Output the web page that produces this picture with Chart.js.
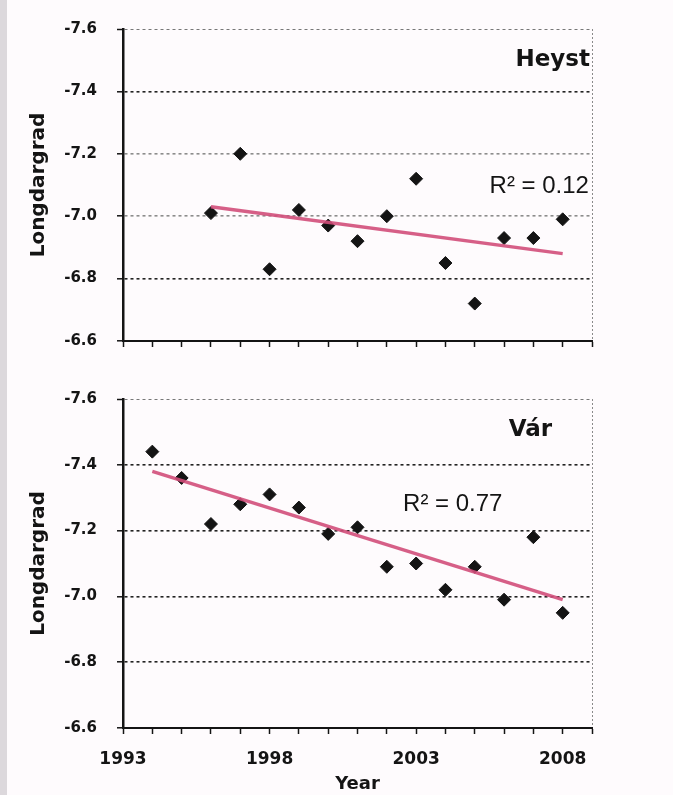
<!DOCTYPE html>
<html>
<head>
<meta charset="utf-8">
<script src="https://cdn.jsdelivr.net/npm/chart.js@4.4.1/dist/chart.umd.min.js"></script>
<style>
  html, body { margin: 0; padding: 0; background: #fefbfd; }
  #page { position: relative; width: 673px; height: 795px; overflow: hidden; background: #fefbfd; }
  #strip { position: absolute; left: 0; top: 0; width: 7px; height: 795px; background: #dcd8dc; }
  .panel { position: absolute; left: 0; width: 673px; }
  #topPanel { top: 0; height: 370px; }
  #bottomPanel { top: 370px; height: 425px; }
</style>
</head>
<body>
<div id="page">
  <div id="strip"></div>
  <div class="panel" id="topPanel"><canvas id="heystChart"></canvas></div>
  <div class="panel" id="bottomPanel"><canvas id="varChart"></canvas></div>
</div>
<script>
// Heyst
const heystYears = [1996, 1997, 1998, 1999, 2000, 2001, 2002, 2003, 2004, 2005, 2006, 2007, 2008];
const heystValues = [-7.01, -7.20, -6.83, -7.02, -6.97, -6.92, -7.00, -7.12, -6.85, -6.72, -6.93, -6.93, -6.99];
const heystTrendYears = [1996, 2008];
const heystTrendValues = [-7.03, -6.88];

// Vár
const varYears = [1994, 1995, 1996, 1997, 1998, 1999, 2000, 2001, 2002, 2003, 2004, 2005, 2006, 2007, 2008];
const varValues = [-7.44, -7.36, -7.22, -7.28, -7.31, -7.27, -7.19, -7.21, -7.09, -7.10, -7.02, -7.09, -6.99, -7.18, -6.95];
const varTrendYears = [1994, 2008];
const varTrendValues = [-7.38, -6.99];

// axes
const yTicks = [-7.6, -7.4, -7.2, -7.0, -6.8, -6.6];
const xLabelYears = [1993, 1998, 2003, 2008];

const ink = '#141414';

function toPoints(xs, ys) {
  return xs.map((x, i) => ({ x: x, y: ys[i] }));
}

// writes the panel name and R² in data space
function labelPlugin(items) {
  return {
    id: 'panelLabels',
    afterDatasetsDraw(chart) {
      const { ctx, scales } = chart;
      items.forEach(it => {
        ctx.save();
        ctx.font = it.font;
        ctx.fillStyle = ink;
        ctx.textAlign = 'center';
        ctx.textBaseline = 'middle';
        ctx.fillText(it.text, scales.x.getPixelForValue(it.x), scales.y.getPixelForValue(it.y));
        ctx.restore();
      });
    }
  };
}

function makeChart(canvasId, xs, ys, trendXs, trendYs, o) {
  return new Chart(document.getElementById(canvasId), {
    type: 'scatter',
    data: {
      datasets: [
        {
          type: 'line',
          data: toPoints(trendXs, trendYs),
          borderColor: 'rgba(210, 78, 122, 0.9)',
          borderWidth: 3.5,
          pointRadius: 0,
          fill: false
        },
        {
          data: toPoints(xs, ys),
          pointStyle: 'rectRot',
          pointRadius: 6.5,
          backgroundColor: ink,
          borderColor: ink,
          borderWidth: 1
        }
      ]
    },
    options: {
      responsive: true,
      maintainAspectRatio: false,
      animation: false,
      layout: { padding: { top: o.padTop, right: 81, left: 0, bottom: 0 } },
      plugins: { legend: { display: false }, tooltip: { enabled: false } },
      scales: {
        x: {
          type: 'linear',
          min: 1993,
          max: 2009,
          afterFit: s => { s.height = o.xHeight; },
          ticks: {
            stepSize: 1,
            autoSkip: false,
            maxRotation: 0,
            padding: 15,
            color: ink,
            font: { family: 'DejaVu Sans', weight: 'bold', size: 17 },
            callback: v => (o.showYears && xLabelYears.includes(v)) ? String(v) : ''
          },
          grid: {
            color: c => (c.tick && c.tick.value === 2009) ? '#8a8a8a' : 'rgba(0,0,0,0)',
            lineWidth: 1,
            tickColor: ink,
            tickLength: 6,
            tickWidth: 1.5
          },
          border: { color: ink, width: 2, dash: [2, 2] },
          title: {
            display: o.showYears,
            text: 'Year',
            color: ink,
            font: { family: 'DejaVu Sans', weight: 'bold', size: 18 },
            padding: { top: 0, bottom: 0 }
          }
        },
        y: {
          type: 'linear',
          reverse: true,
          min: -7.6,
          max: -6.6,
          afterFit: s => { s.width = 123; },
          afterBuildTicks: s => { s.ticks = yTicks.map(v => ({ value: v })); },
          ticks: {
            padding: 20,
            color: ink,
            font: { family: 'DejaVu Sans', weight: 'bold', size: 15 },
            callback: v => Number(v).toFixed(1)
          },
          grid: {
            color: c => {
              const v = c.tick ? c.tick.value : null;
              if (v === -6.6) return 'rgba(0,0,0,0)';
              if (v === -7.6) return '#777';
              if (o.greyLines.includes(v)) return '#8c8c8c';
              return '#222';
            },
            lineWidth: c => (c.tick && c.tick.value === -7.6) ? 1 : 1.6,
            tickColor: ink,
            tickLength: 6,
            tickWidth: 1.5
          },
          border: { color: ink, width: 2.5, dash: [3, 3] },
          title: {
            display: true,
            text: 'Longdargrad',
            color: ink,
            font: { family: 'DejaVu Sans', weight: 'bold', size: 20 },
            padding: { top: 27, bottom: 0 }
          }
        }
      }
    },
    plugins: [labelPlugin(o.labels)]
  });
}

makeChart('heystChart', heystYears, heystValues, heystTrendYears, heystTrendValues, {
  padTop: 20,
  xHeight: 18,
  showYears: false,
  greyLines: [-7.2, -7.0],
  labels: [
    { text: 'Heyst', x: 2007.66, y: -7.50, font: "bold 23px 'DejaVu Sans'" },
    { text: 'R² = 0.12', x: 2007.2, y: -7.094, font: "24px 'Liberation Sans'" }
  ]
});

makeChart('varChart', varYears, varValues, varTrendYears, varTrendValues, {
  padTop: 26,
  xHeight: 67,
  showYears: true,
  greyLines: [],
  labels: [
    { text: 'Vár', x: 2006.9, y: -7.507, font: "bold 23px 'DejaVu Sans'" },
    { text: 'R² = 0.77', x: 2004.25, y: -7.28, font: "24px 'Liberation Sans'" }
  ]
});
</script>
</body>
</html>
